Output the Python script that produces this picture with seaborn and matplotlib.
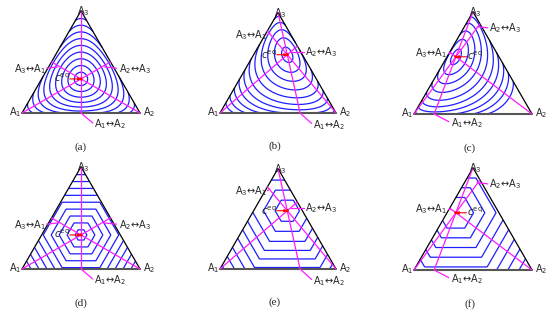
import numpy as np
import matplotlib
matplotlib.use("Agg")
import matplotlib.pyplot as plt
import matplotlib.tri as mtri
import seaborn as sns

sns.set_style("white")
plt.rcParams["font.family"] = ["DejaVu Sans"]
plt.rcParams["mathtext.fontset"] = "dejavusans"
plt.rcParams["mathtext.default"] = "regular"

# ---------------- data ----------------
panel_names = ["(a)", "(b)", "(c)", "(d)", "(e)", "(f)"]
ceq_sym = [1 / 3, 1 / 3, 1 / 3]
ceq_b = [0.13, 0.29, 0.58]
ceq_c = [0.365, 0.075, 0.56]
panel_ceq = [ceq_sym, ceq_b, ceq_c, ceq_sym, ceq_b, ceq_c]
panel_kind = ["kl", "kl", "kl", "l1", "l1", "l1"]
levels_a = [0.0095, 0.037, 0.082, 0.144, 0.224, 0.324, 0.446, 0.594, 0.779, 1.036]
levels_b = [0.012, 0.062, 0.142, 0.254, 0.394, 0.549, 0.716, 0.9, 1.1, 1.32, 1.56]
levels_c = [0.012, 0.062, 0.142, 0.254, 0.394, 0.549, 0.716, 0.9, 1.1, 1.32]
levels_d = [0.1, 0.235, 0.37, 0.505, 0.64, 0.775, 0.91, 1.045, 1.18]
levels_e = [0.21, 0.41, 0.61, 0.79, 0.96, 1.13, 1.31, 1.49, 1.67]
levels_f = [0.3, 0.49, 0.68, 0.87, 1.06, 1.25, 1.44, 1.63, 1.82]
panel_levels = [levels_a, levels_b, levels_c, levels_d, levels_e, levels_f]
vertex_labels = [r"$A_1$", r"$A_2$", r"$A_3$"]
edge_labels = [r"$A_2$↔$A_3$", r"$A_3$↔$A_1$", r"$A_1$↔$A_2$"]  # line through A1, A2, A3
ceq_label = r"$\mathit{c}^{eq}$"

# ---------------- layout (pixels / relative positions) ----------------
W, H, DPI = 550, 315, 100
col_origin = [(22, 113, 118), (220, 113, 116), (414, 114, 118)]  # A1 px x, y, side px
row_shift = 156
XL, XR, YB, YT = -0.3, 1.3, -0.35, 0.95

# per column: for lines through A1, A2, A3 -> (text x, y, ha, leader x0, y0, x1, y1)
col_edge_layout = [
    [(0.82, 0.37, "left", 0.70, 0.39, 0.80, 0.38),
     (0.20, 0.37, "right", 0.21, 0.38, 0.30, 0.39),
     (0.61, -0.095, "left", 0.50, 0.0, 0.60, -0.085)],
    [(0.735, 0.526, "left", 0.615, 0.53, 0.725, 0.53),
     (0.405, 0.672, "right", 0.41, 0.675, 0.43, 0.69),
     (0.80, -0.10, "left", 0.69, 0.0, 0.79, -0.09)],
    [(0.636, 0.729, "left", 0.535, 0.74, 0.625, 0.73),
     (0.28, 0.517, "right", 0.285, 0.52, 0.31, 0.52),
     (0.31, -0.075, "left", 0.17, 0.0, 0.295, -0.065)],
]
# ceq label: (text x, y, ha)
col_ceq_layout = [(0.405, 0.295, "right"), (0.49, 0.505, "right"), (0.445, 0.49, "left")]
col_name_x = [0.5, 0.47, 0.475]

BLUE = "#1f1fff"
MAG = "#ff1dff"
S3 = np.sqrt(3) / 2


def to_xy(c):
    c = np.asarray(c, dtype=float)
    return c[..., 1] + c[..., 2] / 2, c[..., 2] * S3


# barycentric grid
n = 220
ii, jj = np.meshgrid(np.arange(n + 1), np.arange(n + 1), indexing="ij")
mask = ii + jj <= n
c1 = ii[mask] / n
c2 = jj[mask] / n
c3 = np.clip(1 - c1 - c2, 0, 1)
C = np.stack([c1, c2, c3], axis=1)
GX, GY = to_xy(C)
tri = mtri.Triangulation(GX, GY)

fig = plt.figure(figsize=(W / DPI, H / DPI), dpi=DPI)

verts = [(0.0, 0.0), (1.0, 0.0), (0.5, S3)]

for p in range(6):
    col, row = p % 3, p // 3
    ax0, ay0, s = col_origin[col]
    ay0 = ay0 + row * row_shift
    left_px = ax0 + XL * s
    top_px = ay0 - YT * s
    wpx = (XR - XL) * s
    hpx = (YT - YB) * s
    ax = fig.add_axes([left_px / W, 1 - (top_px + hpx) / H, wpx / W, hpx / H])
    ax.patch.set_alpha(0)

    e = np.array(panel_ceq[p])
    if panel_kind[p] == "kl":
        Z = np.sum(np.where(C > 0, C * np.log(np.maximum(C, 1e-300) / e), 0.0), axis=1)
    else:
        Z = np.sum(np.abs(C - e), axis=1)
    ax.tricontour(tri, Z, levels=panel_levels[p], colors=BLUE, linewidths=0.9)

    # triangle edges
    for (a, b) in [(0, 2), (2, 1)]:
        sns.lineplot(x=[verts[a][0], verts[b][0]], y=[verts[a][1], verts[b][1]],
                     ax=ax, color="black", lw=0.9, sort=False, estimator=None)
    sns.lineplot(x=[0, 1], y=[0, 0], ax=ax, color="#555555", lw=1.5,
                 sort=False, estimator=None)

    # equilibrium lines through each vertex
    ex, ey = to_xy(e)
    for i in range(3):
        q = e.copy()
        q[i] = 0
        q = q / q.sum()
        px, py = to_xy(q)
        sns.lineplot(x=[verts[i][0], px], y=[verts[i][1], py], ax=ax, color=MAG,
                     lw=0.9, sort=False, estimator=None)
        tx, ty, ha, lx0, ly0, lx1, ly1 = col_edge_layout[col][i]
        sns.lineplot(x=[lx0, lx1], y=[ly0, ly1], ax=ax, color=MAG, lw=0.9,
                     sort=False, estimator=None)
        ax.text(tx, ty, edge_labels[i], ha=ha, va="center", fontsize=7)

    # vertex labels
    ax.text(-0.005, 0.01, vertex_labels[0], ha="right", va="center", fontsize=7)
    ax.text(1.025, 0.01, vertex_labels[1], ha="left", va="center", fontsize=7)
    ax.text(0.52, 0.86, vertex_labels[2], ha="center", va="center", fontsize=7)

    # equilibrium point
    tx, ty, ha = col_ceq_layout[col]
    ax.annotate("", xy=(ex, ey), xytext=(tx, ey),
                arrowprops=dict(arrowstyle="-|>", color="red", lw=0.8,
                                mutation_scale=4, shrinkA=0, shrinkB=0))
    sns.scatterplot(x=[ex], y=[ey], ax=ax, color="red", s=5, edgecolor="none", zorder=5)
    ax.text(tx, ty, ceq_label, ha=ha, va="center", fontsize=7)

    ax.text(col_name_x[col], -0.29, panel_names[p], ha="center", va="center",
            fontsize=8, family="Liberation Serif")

    ax.set_xlim(XL, XR)
    ax.set_ylim(YB, YT)
    ax.axis("off")

fig.savefig("out.png", dpi=DPI)
